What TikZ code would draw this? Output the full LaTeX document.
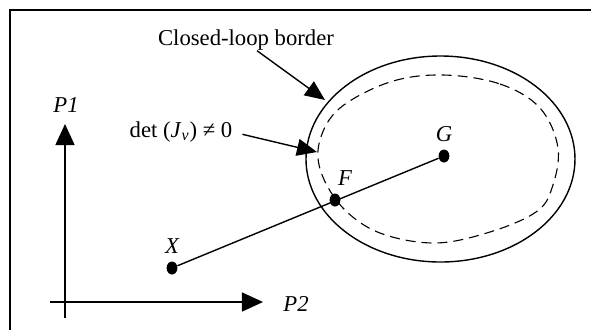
\documentclass[tikz,border=0pt]{standalone}
\usepackage{fontspec}
\setmainfont{Liberation Serif}
\usetikzlibrary{positioning,arrows.meta,shapes.geometric}

\begin{document}
\begin{tikzpicture}[
    x=0.5pt, y=-0.5pt,
    txt/.style={font=\fontsize{11.35}{13}\selectfont, inner sep=0pt},
    ptlabel/.style={txt, font=\fontsize{11.35}{13}\selectfont\itshape},
    dot/.style={ellipse, fill, inner sep=0pt,
                minimum width=5.4pt, minimum height=6.5pt},
    pointer/.style={-{Triangle[length=10pt,width=8.5pt]}, line width=0.7pt},
    axis/.style={-{Triangle[length=10.5pt,width=9.5pt]}, line width=0.7pt},
    frame/.style={line width=1.2pt},
    loop/.style={line width=0.7pt},
    region/.style={line width=0.55pt, dash pattern=on 5pt off 3pt}
]

% page and cut-off frame
\path[use as bounding box] (0,0) rectangle (591,329);
\clip (0,0) rectangle (591,329);
\draw[frame] (10,340) -- (10,10) -- (600,10);

% --- AXES ---
\coordinate (origin) at (65,302);
\coordinate (p1tip) at (65,124);
\coordinate (p2tip) at (263,302);
\draw[axis] (origin |- 0,318) -- (p1tip);
\draw[axis] (origin) ++(-15,0) -- (p2tip);
\node[ptlabel] (p1) at (66,105) {P1};
\node[ptlabel] (p2) at (296,304) {P2};

% --- REGIONS ---
\draw[loop] (440.5,159) ellipse [x radius=134.5, y radius=103];
\draw[region] plot[smooth cycle, tension=0.6] coordinates {
    (443,75) (500,84) (540,108) (558,148) (552,188) (536,212)
    (490,232) (435,243) (380,233) (343,208) (321,172) (320,140)
    (340,108) (390,82)};

% --- POINTS ---
\node[dot] (X) at (172,268) {};
\node[dot] (F) at (335,200) {};
\node[dot] (G) at (444,156) {};
\node[ptlabel, above=3.5pt of X] (xlab) {X};
\node[ptlabel] (flab) at ([xshift=5pt,yshift=11pt]F) {F};
\node[ptlabel, above=3.5pt of G] (glab) {G};
\draw[loop] (X) -- (G);

% --- CALLOUTS ---
\coordinate (cltip) at (325,100);
\coordinate (dettip) at (317,152);
\node[txt] (clb) at (246,40) {Closed-loop border};
\node[txt] (det) at (181,132)
  {det (\textit{J}\textsubscript{\textit{v}}) ≠ 0};
\draw[pointer] ([xshift=5.5pt]clb.south) -- (cltip);
\draw[pointer, shorten <=5pt] (det.east) -- (dettip);

\end{tikzpicture}
\end{document}
